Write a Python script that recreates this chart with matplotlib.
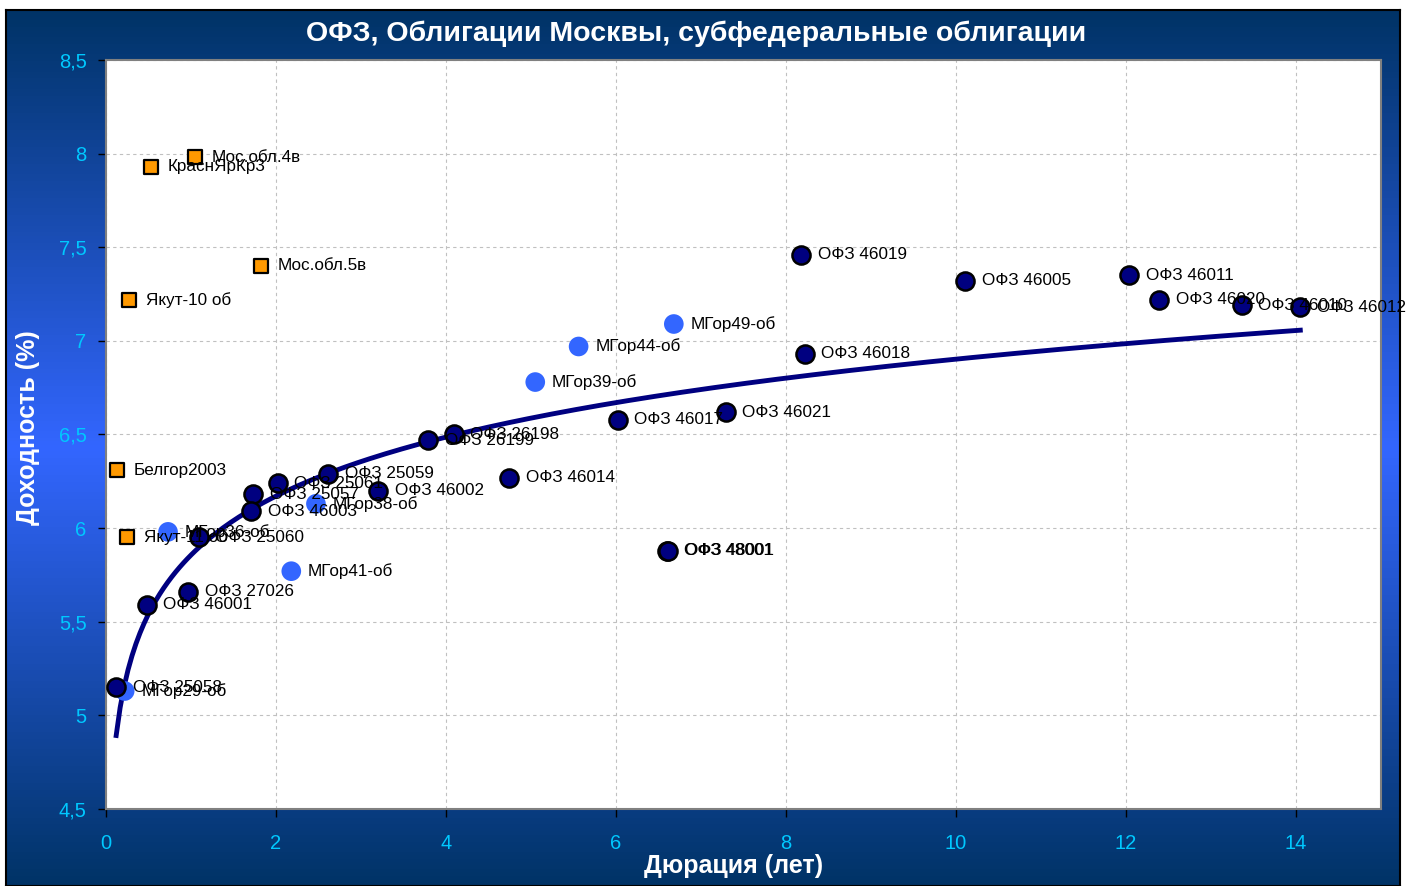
#coding=utf-8
import numpy as np
import matplotlib
matplotlib.use("Agg")
import matplotlib.pyplot as plt
from matplotlib.colors import LinearSegmentedColormap
from matplotlib.ticker import FuncFormatter

plt.rcParams['font.family'] = ['Liberation Sans', 'DejaVu Sans']

# ОФЗ
ofz_names = ["ОФЗ 46019", "ОФЗ 46005", "ОФЗ 46011", "ОФЗ 46020", "ОФЗ 46010",
             "ОФЗ 46012", "ОФЗ 46018", "ОФЗ 46021", "ОФЗ 46017", "ОФЗ 46014",
             "ОФЗ 48001", "ОФЗ 48001", "ОФЗ 26198", "ОФЗ 26199", "ОФЗ 25059",
             "ОФЗ 46002", "ОФЗ 25061", "ОФЗ 25057", "ОФЗ 46003", "ОФЗ 25060",
             "ОФЗ 27026", "ОФЗ 46001", "ОФЗ 25058"]
ofz_dur = [8.18, 10.11, 12.04, 12.39, 13.36, 14.05, 8.22, 7.29, 6.02, 4.74,
           6.60, 6.61, 4.09, 3.79, 2.61, 3.20, 2.02, 1.73, 1.71, 1.09,
           0.97, 0.48, 0.12]
ofz_yld = [7.46, 7.32, 7.35, 7.22, 7.19, 7.18, 6.93, 6.62, 6.58, 6.27,
           5.88, 5.88, 6.50, 6.47, 6.29, 6.20, 6.24, 6.18, 6.09, 5.95,
           5.66, 5.59, 5.15]

# Облигации Москвы
mos_names = ["МГор49-об", "МГор44-об", "МГор39-об", "МГор38-об",
             "МГор36-об", "МГор41-об", "МГор29-об"]
mos_dur = [6.68, 5.56, 5.05, 2.47, 0.73, 2.18, 0.22]
mos_yld = [7.09, 6.97, 6.78, 6.13, 5.98, 5.77, 5.13]

# субфедеральные
sub_names = ["Мос.обл.4в", "КраснЯрКр3", "Мос.обл.5в", "Якут-10 об",
             "Белгор2003", "Якут-11 об"]
sub_dur = [1.05, 0.53, 1.82, 0.27, 0.13, 0.25]
sub_yld = [7.98, 7.93, 7.40, 7.22, 6.31, 5.95]

title = "ОФЗ, Облигации Москвы, субфедеральные облигации"
xlabel = "Дюрация (лет)"
ylabel = "Доходность (%)"

fig = plt.figure(figsize=(14.13, 8.86), dpi=100)
fig.patch.set_facecolor("white")

# фон с градиентом
bg = fig.add_axes([0.0043, 0.0, 0.9865, 0.9887])
cmap = LinearSegmentedColormap.from_list("bg", ["#003366", "#3366ff", "#003366"])
grad = np.linspace(0, 1, 256).reshape(-1, 1)
bg.imshow(grad, aspect="auto", cmap=cmap, extent=[0, 1, 0, 1])
bg.set_xticks([])
bg.set_yticks([])
for s in bg.spines.values():
    s.set_color("black")
    s.set_linewidth(1.5)

ax = fig.add_axes([0.0750, 0.0869, 0.9024, 0.8454])
ax.set_facecolor("white")
ax.set_xlim(0, 15)
ax.set_ylim(4.5, 8.5)
ax.set_xticks(np.arange(0, 15, 2))
ax.set_yticks(np.arange(4.5, 8.51, 0.5))
ax.yaxis.set_major_formatter(FuncFormatter(lambda v, p: ("%g" % v).replace(".", ",")))
ax.grid(True, color="#c0c0c0", linestyle=(0, (3, 3)), linewidth=0.8)
ax.set_axisbelow(True)
for s in ax.spines.values():
    s.set_color("#808080")
    s.set_linewidth(1.5)
ax.tick_params(colors="black", labelcolor="#00c8ff", labelsize=14.5, length=6, width=1)
ax.tick_params(axis="x", pad=12)
ax.tick_params(axis="y", pad=8)

# тренд (логарифмический) по ОФЗ
b, a = np.polyfit(np.log(ofz_dur), ofz_yld, 1)
xs = np.linspace(min(ofz_dur), max(ofz_dur), 300)
ax.plot(xs, a + b*np.log(xs), color="#000080", linewidth=3.5, zorder=2)

ax.scatter(sub_dur, sub_yld, marker="s", s=95, color="#ff9900", edgecolor="black", linewidth=1.6, zorder=3)
ax.scatter(mos_dur, mos_yld, marker="o", s=200, color="#3366ff", edgecolor="none", zorder=3)
ax.scatter(ofz_dur, ofz_yld, marker="o", s=170, color="#000080", edgecolor="black", linewidth=1.8, zorder=4)

for names, xv, yv in [(sub_names, sub_dur, sub_yld), (mos_names, mos_dur, mos_yld), (ofz_names, ofz_dur, ofz_yld)]:
    for n, x, y in zip(names, xv, yv):
        ax.annotate(n, (x, y), xytext=(12, 0), textcoords="offset points",
                    ha="left", va="center", fontsize=12.3, color="black", zorder=5)

fig.text(0.493, 0.9616, title, color="white", fontsize=20.5, fontweight="bold", ha="center", va="center")
fig.text(0.519, 0.0226, xlabel, color="white", fontsize=18, fontweight="bold", ha="center", va="center")
fig.text(0.020, 0.517, ylabel, color="white", fontsize=18, fontweight="bold", ha="center", va="center", rotation=90)

fig.savefig("out.png", dpi=100)
